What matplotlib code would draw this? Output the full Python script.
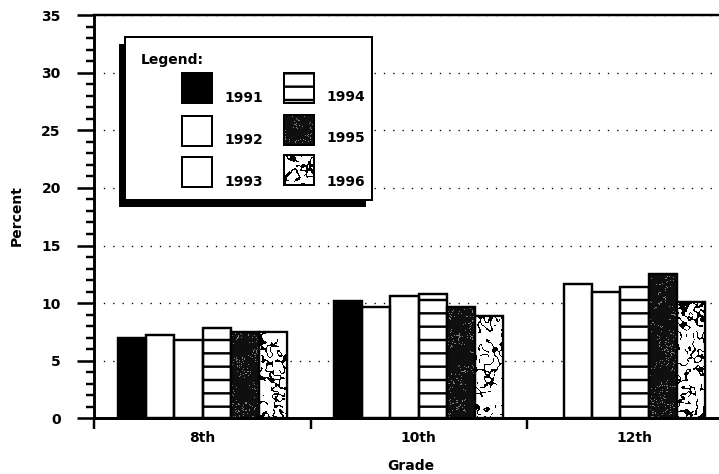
import numpy as np
import matplotlib
matplotlib.use("Agg")
import matplotlib.pyplot as plt
from matplotlib.patches import Rectangle

# Datos: porcentaje por grado y año
grades = ["8th", "10th", "12th"]
years = ["1991", "1992", "1993", "1994", "1995", "1996"]
pct_1991 = [7.0, 10.2, np.nan]
pct_1992 = [7.2, 9.7, 11.7]
pct_1993 = [6.8, 10.6, 11.0]
pct_1994 = [7.8, 10.8, 11.4]
pct_1995 = [7.5, 9.7, 12.5]
pct_1996 = [7.5, 8.9, 10.1]
series = [pct_1991, pct_1992, pct_1993, pct_1994, pct_1995, pct_1996]

# tipo de relleno de cada año
fills = ["solid", "open", "open", "stripe", "speckle", "squiggle"]

DPI = 80
W_PX, H_PX = 719, 474
BAR_W = 0.13
XMAX = 2.891

plt.rcParams["font.family"] = "DejaVu Sans"
plt.rcParams["font.weight"] = "bold"
plt.rcParams["axes.labelweight"] = "bold"
plt.rcParams["font.size"] = 12.5
plt.rcParams["hatch.linewidth"] = 2.2
plt.rcParams["hatch.color"] = "black"


def smooth_noise(rng, shape, sigma):
    n = rng.standard_normal(shape)
    fy = np.fft.fftfreq(shape[0])[:, None]
    fx = np.fft.fftfreq(shape[1])[None, :]
    g = np.exp(-2 * (np.pi * sigma) ** 2 * (fx ** 2 + fy ** 2))
    s = np.real(np.fft.ifft2(np.fft.fft2(n) * g))
    return s / s.std()


def texture(kind, h, w, seed):
    rng = np.random.default_rng(seed)
    if kind == "speckle":
        img = np.full((h, w), 0.06)
        r = rng.random((h, w))
        s = smooth_noise(rng, (h, w), 3)
        img[(r > 0.9) & (s > -0.2)] = 0.5
        return img
    # trazos negros cortos sobre blanco
    s1 = smooth_noise(rng, (h, w), 1.7)
    s2 = smooth_noise(rng, (h, w), 3.0)
    img = np.ones((h, w))
    img[(np.abs(s1) < 0.42) & (s2 > -0.7)] = 0.0
    return img


def paint(ax, rects, kind, tex, extent):
    if kind not in ("speckle", "squiggle"):
        return
    for r in rects:
        im = ax.imshow(tex, extent=extent, cmap="gray", vmin=0, vmax=1,
                       interpolation="nearest", aspect="auto", zorder=2.5)
        im.set_clip_path(r)


def face(kind):
    return "black" if kind == "solid" else "white"


def hatch(kind):
    return "-" if kind == "stripe" else None


fig = plt.figure(figsize=(W_PX / DPI, H_PX / DPI), dpi=DPI)
ax = fig.add_axes([94.5 / W_PX, 1 - 418.3 / H_PX, 1 - 94.5 / W_PX, 403.2 / H_PX])

ax_w = int(W_PX * (1 - 94.5 / W_PX))
ax_h = int(403.2)

# barras agrupadas; en cada grado se centran los años con dato
for j, (vals, kind) in enumerate(zip(series, fills)):
    xs, hs = [], []
    for i in range(len(grades)):
        present = [k for k in range(len(series)) if not np.isnan(series[k][i])]
        if j not in present:
            continue
        n = len(present)
        k = present.index(j)
        xs.append(i + 0.5 + (k - (n - 1) / 2) * BAR_W)
        hs.append(vals[i])
    bars = ax.bar(xs, hs, width=BAR_W, facecolor=face(kind), edgecolor="black",
                  linewidth=2.0, hatch=hatch(kind), zorder=2)
    if kind in ("speckle", "squiggle"):
        tex = texture(kind, ax_h, ax_w, 11 + j)
        paint(ax, bars.patches, kind, tex, (0, XMAX, 0, 35))
    ax.bar(xs, hs, width=BAR_W, fill=False, edgecolor="black", linewidth=2.0, zorder=3)

ax.set_xlim(0, XMAX)
ax.set_ylim(0, 35)

# eje Y
ax.set_yticks(np.arange(0, 36, 5))
ax.set_yticks(np.arange(0, 36, 1), minor=True)
ax.tick_params(axis="y", which="major", direction="out", length=15.3, width=2.3,
               pad=15, labelsize=12.5)
ax.tick_params(axis="y", which="minor", direction="out", length=7.5, width=2.2)
ax.grid(axis="y", which="major", color="black", linestyle=(0, (1, 6)), linewidth=1.2)
ax.set_axisbelow(True)

# eje X: marcas entre grados, etiquetas centradas
ax.set_xticks([0, 1, 2])
ax.set_xticklabels([])
ax.set_xticks([0.5, 1.5, 2.5], minor=True)
ax.set_xticklabels(grades, minor=True)
ax.tick_params(axis="x", which="major", direction="out", length=10, width=2.2)
ax.tick_params(axis="x", which="minor", length=0, pad=11, labelsize=12.5)

ax.spines["right"].set_visible(False)
ax.spines["top"].set_linewidth(2.2)
ax.spines["left"].set_linewidth(2.6)
ax.spines["bottom"].set_linewidth(2.7)

ax.set_ylabel("Percent", fontsize=12.5, va="center")
ax.yaxis.set_label_coords(-0.124, 0.504)
ax.set_xlabel("Grade", fontsize=12.5, va="center")
ax.xaxis.set_label_coords(0.507, -0.118)

# leyenda con sombra, en coordenadas de píxel
lg = fig.add_axes([0, 0, 1, 1], zorder=5)
lg.set_xlim(0, W_PX)
lg.set_ylim(H_PX, 0)
lg.axis("off")
lg.add_patch(Rectangle((119, 44), 247, 163, facecolor="black", edgecolor="none"))
lg.add_patch(Rectangle((125, 37), 247, 163, facecolor="white", edgecolor="black",
                       linewidth=1.8))
lg.text(141, 60, "Legend:", ha="left", va="center", fontsize=12.5, fontweight="heavy")

swatch_xy = [(182, 73), (182, 116), (182, 157), (284, 73), (284, 115), (284, 155)]
label_xy = [(224, 98), (224, 140), (224, 182), (326, 97), (326, 138), (326, 182)]
for j, (year, kind) in enumerate(zip(years, fills)):
    sx, sy = swatch_xy[j]
    sw = Rectangle((sx, sy), 30, 30, facecolor=face(kind), edgecolor="black",
                   linewidth=1.8, hatch=hatch(kind), zorder=2)
    lg.add_patch(sw)
    if kind in ("speckle", "squiggle"):
        tex = texture(kind, H_PX, W_PX, 31 + j)
        paint(lg, [sw], kind, tex, (0, W_PX, H_PX, 0))
    lg.add_patch(Rectangle((sx, sy), 30, 30, fill=False, edgecolor="black",
                           linewidth=1.8, zorder=3))
    lg.text(label_xy[j][0], label_xy[j][1], year, ha="left", va="center", fontsize=12.5)

fig.savefig("out.png", dpi=DPI)
